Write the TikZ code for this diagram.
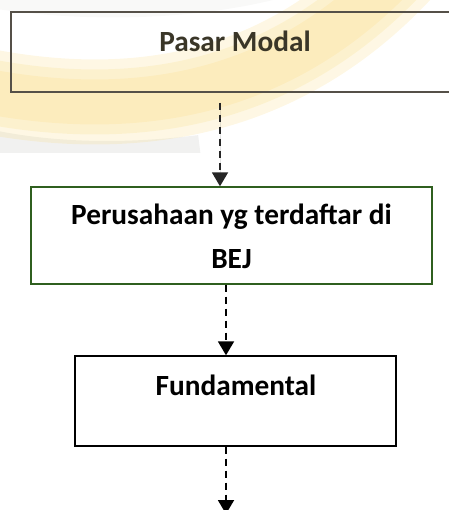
\documentclass[tikz,border=0pt]{standalone}
\usepackage{fontspec}
\setmainfont{Carlito}
\usetikzlibrary{arrows.meta}
\definecolor{swoosh}{HTML}{F8D878}
\definecolor{shadowg}{HTML}{C0C0BC}
\definecolor{boxgreen}{HTML}{2F5F1F}
\definecolor{topgray}{HTML}{555048}
\definecolor{toptext}{HTML}{3A3628}
\tikzset{
  boxshape/.style={draw, rectangle, inner sep=0pt, line width=1.4pt},
  label/.style={font=\fontsize{29.3}{34}\selectfont\bfseries, inner sep=0pt, anchor=base},
  flow/.style={dash pattern=on 7pt off 5pt, line width=1.9pt, -{Triangle[width=16pt,length=14pt]}},
}
\begin{document}
\begin{tikzpicture}[x=1pt,y=-1pt]
\useasboundingbox (0,0) rectangle (448,510);
% faded watermark
\begin{scope}
\clip (0,0) rectangle (448,153);
\draw[shadowg, line width=24pt, opacity=0.10] (-40,-10) .. controls (60,12) and (200,12) .. (300,-20);
\draw[shadowg, line width=30pt, opacity=0.22] (-30,140) .. controls (40,158) and (120,160) .. (200,150);
\draw[swoosh, line width=85pt, opacity=0.2] (-30,88) .. controls (130,122) and (280,98) .. (400,-30);
\draw[swoosh, line width=65pt, opacity=0.2] (-30,88) .. controls (130,122) and (280,98) .. (400,-30);
\draw[swoosh, line width=45pt, opacity=0.2] (-30,88) .. controls (130,122) and (280,98) .. (400,-30);
\end{scope}
% boxes
\node[boxshape, draw=topgray, minimum width=448pt, minimum height=80pt] (b1) at (235,52) {};
\node[label, text=toptext] (t1) at (235,52) {Pasar Modal};
\node[boxshape, draw=boxgreen, minimum width=401pt, minimum height=97pt] (b2) at (231.5,235.5) {};
\node[label] (t2a) at (231.5,225) {Perusahaan yg terdaftar di};
\node[label] (t2b) at (231.5,268) {BEJ};
\node[boxshape, draw=black, minimum width=321pt, minimum height=90pt] (b3) at (235.5,401) {};
\node[label] (t3) at (236,395) {Fundamental};
% connectors
\coordinate (s1) at (220,103);
\coordinate (e3) at (226,514);
\draw[flow, draw=black!85, fill=black!85] (s1) -- (s1 |- b2.north);
\draw[flow] (b2.south -| 226,0) -- (b3.north -| 226,0);
\draw[flow] (b3.south -| e3) -- (e3);
\end{tikzpicture}
\end{document}
